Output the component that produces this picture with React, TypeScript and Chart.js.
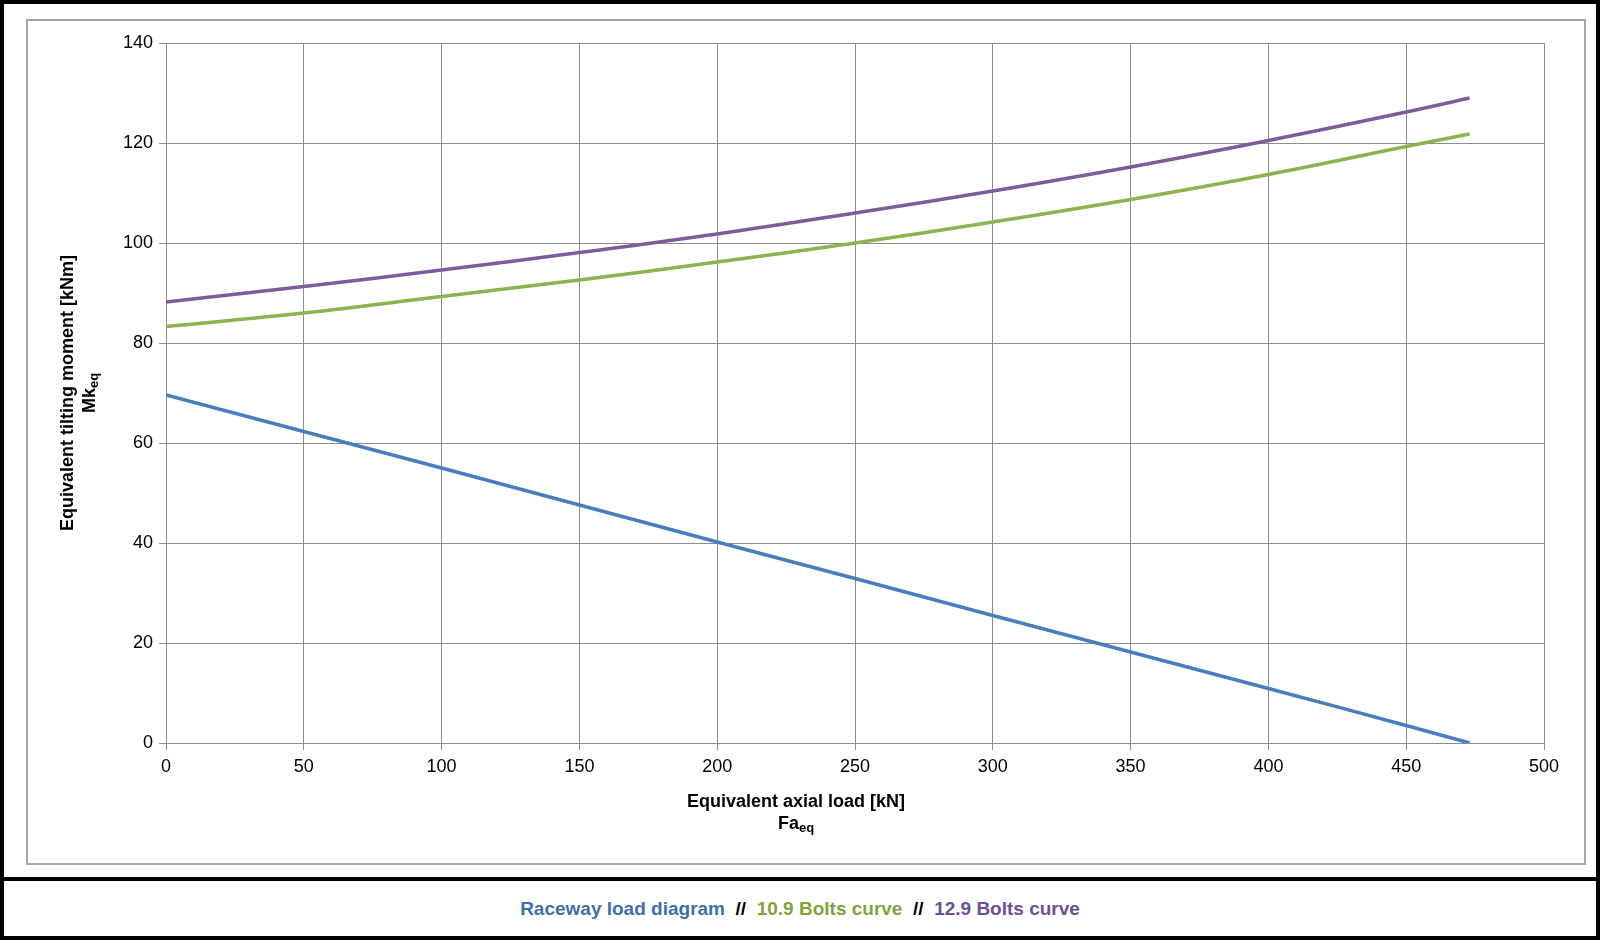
import React, { useEffect, useRef } from "react";
import { Chart, registerables } from "chart.js";
Chart.register(...registerables);

const xValues = [0, 50, 100, 150, 200, 250, 300, 350, 400, 450, 473];
const raceway = [69.6, 62.3, 55, 47.6, 40.2, 32.9, 25.5, 18.2, 10.9, 3.5, 0];
const bolts109 = [83.3, 86.0, 89.3, 92.6, 96.2, 100.0, 104.2, 108.7, 113.7, 119.3, 121.8];
const bolts129 = [88.2, 91.3, 94.6, 98.1, 101.8, 106.0, 110.4, 115.2, 120.5, 126.2, 129.0];
const seriesNames = ["Raceway load diagram", "10.9 Bolts curve", "12.9 Bolts curve"];
const colors = ["#4a7ebb", "#8db250", "#7c5c9c"];

const FONT = "'Liberation Sans', Arial, sans-serif";

const titlePlugin = {
  id: "titles",
  afterDraw(chart: any) {
    const ctx = chart.ctx;
    ctx.save();
    ctx.fillStyle = "#000";
    ctx.textBaseline = "middle";
    const drawSub = (main: string, sub: string, x: number, y: number) => {
      ctx.font = `bold 18px ${FONT}`;
      const w1 = ctx.measureText(main).width;
      ctx.font = `bold 13px ${FONT}`;
      const w2 = ctx.measureText(sub).width;
      const start = x - (w1 + w2) / 2;
      ctx.textAlign = "left";
      ctx.font = `bold 18px ${FONT}`;
      ctx.fillText(main, start, y);
      ctx.font = `bold 13px ${FONT}`;
      ctx.fillText(sub, start + w1, y + 4);
    };
    ctx.textAlign = "center";
    ctx.font = `bold 18px ${FONT}`;
    ctx.fillText("Equivalent axial load [kN]", 770, 783);
    drawSub("Fa", "eq", 770, 805);
    ctx.translate(42, 374);
    ctx.rotate(-Math.PI / 2);
    ctx.textAlign = "center";
    ctx.font = `bold 18px ${FONT}`;
    ctx.fillText("Equivalent tilting moment [kNm]", 0, 0);
    drawSub("Mk", "eq", 0, 22);
    ctx.restore();
  },
};

export default function App() {
  const ref = useRef<HTMLCanvasElement>(null);
  useEffect(() => {
    const series = [raceway, bolts109, bolts129];
    const chart = new Chart(ref.current!, {
      type: "scatter",
      data: {
        datasets: series.map((s, i) => ({
          label: seriesNames[i],
          data: xValues.map((x, j) => ({ x, y: s[j] })),
          showLine: true,
          borderColor: colors[i],
          backgroundColor: colors[i],
          borderWidth: 3.5,
          pointRadius: 0,
          tension: 0.4,
        })),
      },
      options: {
        animation: false,
        responsive: false,
        layout: { padding: { left: 0, top: 24, right: 42, bottom: 0 } },
        plugins: { legend: { display: false }, tooltip: { enabled: false } },
        scales: {
          x: {
            type: "linear",
            min: 0,
            max: 500,
            ticks: { stepSize: 50, color: "#000", font: { family: FONT, size: 18 }, padding: 6 },
            grid: { color: "#8c8c8c", lineWidth: 1, tickLength: 7 },
            border: { color: "#8c8c8c" },
            afterFit: (s: any) => { s.height = 122; },
          },
          y: {
            min: 0,
            max: 140,
            ticks: { stepSize: 20, color: "#000", font: { family: FONT, size: 18 }, padding: 6 },
            grid: { color: "#8c8c8c", lineWidth: 1, tickLength: 7 },
            border: { color: "#8c8c8c" },
            afterFit: (s: any) => { s.width = 140; },
          },
        },
      },
      plugins: [titlePlugin],
    });
    return () => chart.destroy();
  }, []);

  return (
    <div style={{ position: "absolute", left: 0, top: 0, width: 1600, height: 940, boxSizing: "border-box", border: "4px solid #000", background: "#fff" }}>
      <div style={{ position: "absolute", left: 22, top: 15, width: 1560, height: 846, boxSizing: "border-box", border: "2px solid #a6a6a6" }} />
      <canvas ref={ref} width={1560} height={846} style={{ position: "absolute", left: 22, top: 15 }} />
      <div style={{ position: "absolute", left: -4, top: 873, width: 1604, height: 4, background: "#000" }} />
      <div style={{ position: "absolute", left: 0, top: 877, width: 1592, height: 55, display: "flex", alignItems: "center", justifyContent: "center", fontFamily: FONT, fontWeight: "bold", fontSize: 19, whiteSpace: "pre" }}>
        <span style={{ color: "#3e6fa8" }}>{seriesNames[0]}</span>
        <span style={{ color: "#000" }}>{"  //  "}</span>
        <span style={{ color: "#7fa43c" }}>{seriesNames[1]}</span>
        <span style={{ color: "#000" }}>{"  //  "}</span>
        <span style={{ color: "#6d4f92" }}>{seriesNames[2]}</span>
      </div>
    </div>
  );
}
